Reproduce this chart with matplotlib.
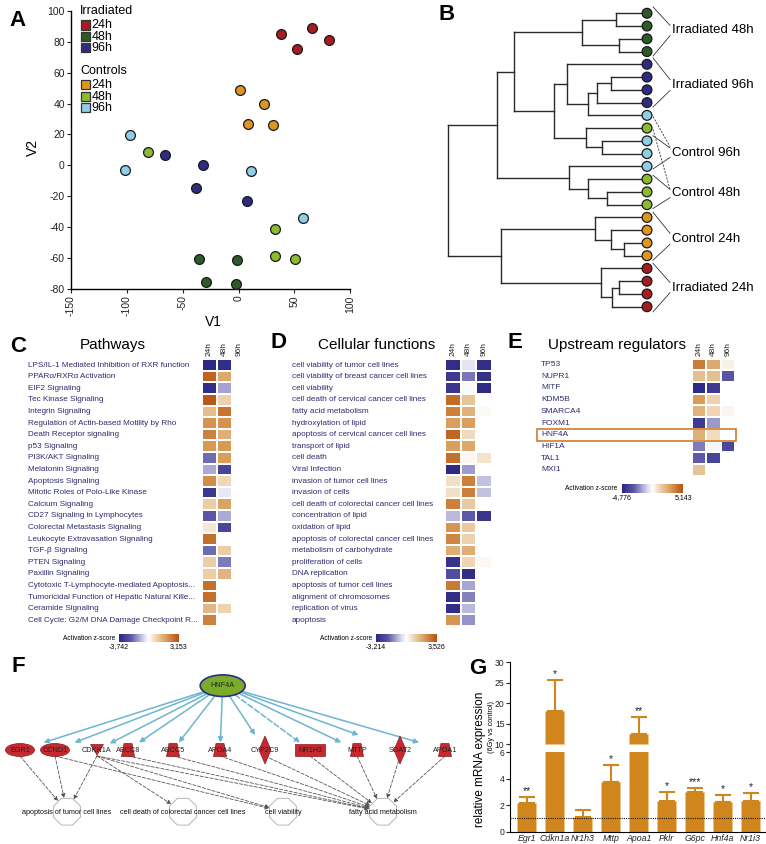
import numpy as np
import matplotlib
matplotlib.use("Agg")
import matplotlib.pyplot as plt
from matplotlib import patches, transforms
from matplotlib.colors import LinearSegmentedColormap, TwoSlopeNorm
from matplotlib.cm import ScalarMappable

plt.rcParams['font.family'] = ['Liberation Sans', 'DejaVu Sans']
plt.rcParams['axes.unicode_minus'] = False

W, H = 766, 844
nan = np.nan

# sample group colours
c_irr24 = '#a51d21'
c_irr48 = '#2d5b27'
c_irr96 = '#2f2b84'
c_ctl24 = '#e0951f'
c_ctl48 = '#8dbb2f'
c_ctl96 = '#91cde4'

# ---------------- A: PCA scores ----------------
irr24_v1 = [38, 52, 66, 81]
irr24_v2 = [85, 75, 89, 81]
irr48_v1 = [-35.5, -1.5, -29, -2.4]
irr48_v2 = [-60.3, -61.2, -75.2, -76.5]
irr96_v1 = [-65.4, -32, -38, 7.8]
irr96_v2 = [6.5, 0, -14.9, -23.1]
ctl24_v1 = [1.5, 22.7, 8.4, 31.3]
ctl24_v2 = [49, 39.7, 27, 26]
ctl48_v1 = [-81.5, 33, 32.5, 51]
ctl48_v2 = [8.6, -41.4, -58.6, -60.3]
ctl96_v1 = [-97.6, -101.5, 11.3, 57.6]
ctl96_v2 = [19.6, -3.2, -3.9, -34.3]

# ---------------- B: dendrogram ----------------
leaf_colors = ([c_irr48] * 4 + [c_irr96] * 4 +
               [c_ctl96, c_ctl48, c_ctl96, c_ctl96, c_ctl96, c_ctl48, c_ctl48, c_ctl48] +
               [c_ctl24] * 4 + [c_irr24] * 4)
# (child a, child b, height); new clusters numbered from 24
merges = [(0, 1, 31), (2, 3, 28), (24, 25, 65),
          (5, 6, 36), (27, 7, 50), (28, 8, 59), (4, 29, 80),
          (10, 11, 45), (9, 31, 61), (30, 32, 93), (26, 33, 133),
          (14, 15, 40), (13, 35, 59), (12, 36, 78), (34, 37, 150),
          (18, 19, 23), (17, 39, 36), (16, 40, 52),
          (21, 22, 28), (42, 23, 35), (20, 43, 46),
          (41, 44, 146), (38, 45, 199)]
group_labels = ['Irradiated 48h', 'Irradiated 96h', 'Control 96h',
                'Control 48h', 'Control 24h', 'Irradiated 24h']
group_label_pos = [1.31, 5.6, 10.93, 14.12, 17.68, 21.5]
# bracket strokes: (from leaf position, to label position, style)
group_strokes = [[(-0.5, 0.95, '-'), (3.35, 1.75, '-')],
                 [(3.5, 5.2, '-'), (7.35, 6.05, '-')],
                 [(8.1, 10.45, '--'), (9.6, 10.55, '-'), (12.2, 11.3, '-')],
                 [(9.1, 13.8, '--'), (12.7, 13.8, '-'), (15.3, 14.45, '-')],
                 [(15.6, 17.25, '-'), (19.35, 18.1, '-')],
                 [(19.6, 21.1, '-'), (23.4, 21.9, '-')]]

# ---------------- C: pathways ----------------
path_names = ['LPS/IL-1 Mediated Inhibition of RXR function', 'PPARα/RXRα Activation',
              'EIF2 Signaling', 'Tec Kinase Signaling', 'Integrin Signaling',
              'Regulation of Actin-based Motility by Rho', 'Death Receptor signaling',
              'p53 Signaling', 'PI3K/AKT Signaling', 'Melatonin Signaling',
              'Apoptosis Signaling', 'Mitotic Roles of Polo-Like Kinase', 'Calcium Signaling',
              'CD27 Signaling in Lymphocytes', 'Colorectal Metastasis Signaling',
              'Leukocyte Extravasation Signaling', 'TGF-β Signaling', 'PTEN Signaling',
              'Paxillin Signaling', 'Cytotoxic T-Lymphocyte-mediated Apoptosis...',
              'Tumoricidal Function of Hepatic Natural Kille...', 'Ceramide Signaling',
              'Cell Cycle: G2/M DNA Damage Checkpoint R...']
path_24h = [-3.7, 2.8, -3.5, 3.0, 1.2, 2.0, 2.3, 1.9, -2.0, -1.2, 2.1, -3.2, 0.9,
            -2.3, 0.4, 2.6, -2.0, 0.9, 0.9, 2.6, 2.6, 1.3, 2.3]
path_48h = [-3.5, 1.6, -1.3, 0.8, 2.5, 2.0, 1.5, 1.9, 1.8, -2.8, 0.7, -0.4, 1.7,
            -1.2, -2.8, nan, 0.9, -1.8, 1.4, nan, nan, 0.8, nan]
path_96h = [nan] * 23
path_range = (-3.742, 3.153)

# ---------------- D: cellular functions ----------------
func_names = ['cell viability of tumor cell lines', 'cell viability of breast cancer cell lines',
              'cell viability', 'cell death of cervical cancer cell lines', 'fatty acid metabolism',
              'hydroxylation of lipid', 'apoptosis of cervical cancer cell lines',
              'transport of lipid', 'cell death', 'Viral Infection',
              'invasion of tumor cell lines', 'invasion of cells',
              'cell death of colorectal cancer cell lines', 'concentration of lipid',
              'oxidation of lipid', 'apoptosis of colorectal cancer cell lines',
              'metabolism of carbohydrate', 'proliferation of cells', 'DNA replication',
              'apoptosis of tumor cell lines', 'alignment of chromosomes',
              'replication of virus', 'apoptosis']
func_24h = [-3.0, -2.7, -2.8, 3.0, 2.6, 2.0, 3.1, 2.0, 2.9, -3.1, 0.6, 0.6, 2.6,
            -0.9, 2.2, 2.5, 1.7, -2.9, -2.2, 2.7, -3.0, -3.0, 2.2]
func_48h = [-0.4, -1.6, -0.1, 1.2, 1.6, 2.0, 0.7, 1.8, 0.15, -1.2, 2.6, 2.6, 1.1,
            -1.9, 1.1, 0.9, 1.7, 0.8, -3.0, -1.1, -1.5, -0.9, -1.3]
func_96h = [-3.0, -2.9, -3.1, nan, 0.1, nan, nan, nan, 0.5, nan, -0.8, -0.8, nan,
            -2.8, nan, nan, nan, 0.15, nan, nan, nan, nan, nan]
func_range = (-3.214, 3.526)

# ---------------- E: upstream regulators ----------------
reg_names = ['TP53', 'NUPR1', 'MITF', 'KDM5B', 'SMARCA4', 'FOXM1', 'HNF4A', 'HIF1A', 'TAL1', 'MXI1']
reg_24h = [3.9, 1.9, -4.6, 3.0, 2.3, -4.0, 2.4, -2.3, -2.8, 1.8]
reg_48h = [2.6, 1.9, -4.0, 1.3, 1.2, -1.8, 1.0, -0.2, -3.6, nan]
reg_96h = [0.4, -3.0, nan, nan, 0.25, nan, nan, -3.5, nan, nan]
reg_range = (-4.776, 5.143)
time_cols = ['24h', '48h', '96h']

# ---------------- F: HNF4A network ----------------
hub_name = 'HNF4A'
net_genes = ['EGR1', 'CCND1', 'CDKN1A', 'ABCC8', 'ABCC5', 'APOA4', 'CYP2C9', 'NR1H3',
             'MTTP', 'SOAT2', 'APOA1']
net_shapes = ['ellipse', 'ellipse', 'vtri', 'trap', 'trap', 'trap', 'diamond', 'rect',
              'trap', 'diamond', 'trap']
net_gene_x = [20, 55, 97, 128, 173, 220, 265, 310, 357, 400, 445]
net_dashed = ['NR1H3']
net_funcs = ['apoptosis of tumor cell lines', 'cell death of colorectal cancer cell lines',
             'cell viability', 'fatty acid metabolism']
net_func_x = [67, 183, 283, 383]
net_links = [('EGR1', 0), ('CCND1', 0), ('CDKN1A', 0), ('CCND1', 2), ('CDKN1A', 1),
             ('CDKN1A', 2), ('CDKN1A', 3), ('ABCC8', 3), ('ABCC5', 3), ('APOA4', 3),
             ('CYP2C9', 3), ('NR1H3', 3), ('MTTP', 3), ('SOAT2', 3), ('APOA1', 3)]

# ---------------- G: qPCR ----------------
qpcr_genes = ['Egr1', 'Cdkn1a', 'Nr1h3', 'Mttp', 'Apoa1', 'Pklr', 'G6pc', 'Hnf4a', 'Nr1i3']
qpcr_mean = [2.2, 18.1, 1.08, 3.78, 12.45, 2.29, 2.97, 2.22, 2.34]
qpcr_err = [0.44, 7.5, 0.58, 1.26, 4.15, 0.71, 0.3, 0.58, 0.58]
qpcr_sig = ['**', '*', '', '*', '**', '*', '***', '*', '*']

# ======================================================================
fig = plt.figure(figsize=(W / 100, H / 100), dpi=100)


def ax_px(x0, y0, x1, y1):
    return fig.add_axes([x0 / W, 1 - y1 / H, (x1 - x0) / W, (y1 - y0) / H])


def ftext(x, y, s, **kw):
    fig.text(x / W, 1 - y / H, s, **kw)


for lab, (x, y) in zip('ABCDEFG', [(18, 20), (447, 14), (18, 346), (278, 343),
                                    (515, 343), (18, 666), (478, 669)]):
    ftext(x, y, lab, fontsize=16, fontweight='bold', ha='center', va='center')

# ---- A ----
axA = ax_px(71, 10.7, 350.2, 289.2)
for v1, v2, c in [(irr24_v1, irr24_v2, c_irr24), (irr48_v1, irr48_v2, c_irr48),
                  (irr96_v1, irr96_v2, c_irr96), (ctl24_v1, ctl24_v2, c_ctl24),
                  (ctl48_v1, ctl48_v2, c_ctl48), (ctl96_v1, ctl96_v2, c_ctl96)]:
    axA.scatter(v1, v2, s=50, c=c, edgecolors='#1a1a1a', linewidths=0.9, zorder=3, clip_on=False)
axA.set_xlim(-150, 100)
axA.set_ylim(-80, 100)
axA.set_xticks([-150, -100, -50, 0, 50, 100])
axA.set_yticks(range(-80, 101, 20))
axA.tick_params(labelsize=7.5, length=3, width=0.8, pad=1.5, colors='#222')
plt.setp(axA.get_xticklabels(), rotation=90)
for s in ['top', 'right']:
    axA.spines[s].set_visible(False)
for s in ['left', 'bottom']:
    axA.spines[s].set_linewidth(1.0)
axA.set_xlabel('V1', fontsize=10)
axA.set_ylabel('V2', fontsize=10)
axA.xaxis.set_label_coords(0.509, -0.093)
axA.yaxis.set_label_coords(-0.111, 0.51)

# legend of panel A
ftext(80, 10.5, 'Irradiated', fontsize=9, va='center')
ftext(80, 71, 'Controls', fontsize=9, va='center')
for i, c in enumerate([c_irr24, c_irr48, c_irr96, c_ctl24, c_ctl48, c_ctl96]):
    yy = 20.5 + i * 11.3 + (26 if i >= 3 else 0)
    fig.add_artist(patches.Rectangle((81 / W, 1 - (yy + 9) / H), 9 / W, 9 / H,
                                     transform=fig.transFigure, fc=c, ec='#333', lw=0.9))
    ftext(91.5, yy + 4.8, time_cols[i % 3], fontsize=9, va='center')

# ---- B ----
axB = ax_px(447.7, 6.9, 647, 313.1)
axB.set_xlim(199, 0)
axB.set_ylim(23.5, -0.5)
axB.axis('off')
pos = {i: float(i) for i in range(24)}
hgt = {i: 0.0 for i in range(24)}
for k, (a, b, h) in enumerate(merges):
    for ch in (a, b):
        axB.plot([hgt[ch], h], [pos[ch], pos[ch]], color='#2a2a2a', lw=1.0, clip_on=False)
    axB.plot([h, h], [pos[a], pos[b]], color='#2a2a2a', lw=1.0, clip_on=False)
    pos[24 + k] = (pos[a] + pos[b]) / 2
    hgt[24 + k] = h
axB.scatter(np.zeros(24), np.arange(24), s=50, c=leaf_colors, edgecolors='#1a1a1a',
            linewidths=0.9, zorder=3, clip_on=False)
for lab, ly, strokes in zip(group_labels, group_label_pos, group_strokes):
    axB.text(-25, ly, lab, fontsize=9.5, va='center', ha='left', clip_on=False)
    for y0, y1, ls in strokes:
        axB.plot([-6, -23], [y0, y1], color='#333', lw=0.6, ls=ls, clip_on=False,
                 dashes=(2.5, 1.5) if ls == '--' else (None, None))

# ---- heatmaps C, D, E ----
cmap = LinearSegmentedColormap.from_list('ipa', [(0, '#2a2683'), (0.2, '#5c58a6'),
                                                 (0.42, '#dcdbef'), (0.5, '#ffffff'),
                                                 (0.58, '#f3e1c8'), (0.8, '#d89a55'),
                                                 (1, '#b5500e')])


def heatmap(rect, names, cols, vrange, label_x, title, title_xy, name_size, cbar_rect):
    ax = ax_px(*rect)
    data = np.ma.masked_invalid(np.array(cols).T)
    norm = TwoSlopeNorm(vmin=vrange[0], vcenter=0, vmax=vrange[1])
    ax.pcolormesh(data, cmap=cmap, norm=norm, edgecolors='#ffffff', linewidth=0.25)
    ax.set_xlim(0, 3)
    ax.set_ylim(len(names), 0)
    ax.axis('off')
    tr = transforms.blended_transform_factory(fig.transFigure, ax.transData)
    for i, nm in enumerate(names):
        ax.text(label_x / W, i + 0.5, nm, transform=tr, fontsize=name_size, color='#2f2c6e',
                va='center', ha='left')
    for j, t in enumerate(time_cols):
        ax.text(j + 0.5, -0.25, t, rotation=90, fontsize=6, ha='center', va='bottom', color='#222')
    ftext(title_xy[0], title_xy[1], title, fontsize=11, ha='center', va='center')
    cax = ax_px(*cbar_rect)
    cb = fig.colorbar(ScalarMappable(norm=norm, cmap=cmap), cax=cax, orientation='horizontal')
    cb.outline.set_visible(False)
    cb.set_ticks(list(vrange))
    cb.set_ticklabels([('%.3f' % v).replace('.', ',') for v in vrange])
    cax.tick_params(length=0, labelsize=5, pad=1)
    ftext(cbar_rect[0] - 4, (cbar_rect[1] + cbar_rect[3]) / 2, 'Activation z-score',
          fontsize=4.8, ha='right', va='center')
    return ax, tr


heatmap((201.7, 359.3, 246.7, 626), path_names, [path_24h, path_48h, path_96h], path_range,
        28, 'Pathways', (113, 345), 5.85, (119, 634, 179, 642))
heatmap((445, 359.3, 491.7, 626), func_names, [func_24h, func_48h, func_96h], func_range,
        292, 'Cellular functions', (377, 345), 5.85, (376, 634, 437, 642))
axE, trE = heatmap((691.7, 358.7, 735, 475.7), reg_names, [reg_24h, reg_48h, reg_96h], reg_range,
                   541, 'Upstream regulators', (617, 345), 6.0, (621.7, 484, 683.3, 493))
hi = reg_names.index('HNF4A')
axE.add_patch(patches.Rectangle((536.7 / W, hi), (736 - 536.7) / W, 1, transform=trE,
                                fill=False, ec='#cf7a2b', lw=1.2, clip_on=False))

# ---- F ----
axF = ax_px(0, 655, 460, 844)
axF.set_xlim(0, 460)
axF.set_ylim(844, 655)
axF.axis('off')
hub = (222.7, 685.7)
hub_a, hub_b = 22.5, 10.8
gene_y = 750
func_y = 811.7
red = '#c42a30'
axF.add_patch(patches.Ellipse(hub, 2 * hub_a, 2 * hub_b, fc='#7bab2b', ec='#2f2b84', lw=1.2, zorder=4))
axF.text(hub[0], hub[1], hub_name, fontsize=5.2, ha='center', va='center', zorder=5, color='#222')

gene_top = {}
for g, shp, gx in zip(net_genes, net_shapes, net_gene_x):
    if shp == 'ellipse':
        p = patches.Ellipse((gx, gene_y), 29, 13)
        top = gene_y - 6.5
    elif shp == 'vtri':
        p = patches.Polygon([(gx - 6.5, gene_y - 5.5), (gx + 6.5, gene_y - 5.5), (gx, gene_y + 5)])
        top = gene_y - 5.5
    elif shp == 'trap':
        p = patches.Polygon([(gx - 4, gene_y - 6.5), (gx + 4, gene_y - 6.5),
                             (gx + 6.5, gene_y + 6.5), (gx - 6.5, gene_y + 6.5)])
        top = gene_y - 6.5
    elif shp == 'diamond':
        p = patches.Polygon([(gx, gene_y - 14), (gx + 6, gene_y), (gx, gene_y + 14), (gx - 6, gene_y)])
        top = gene_y - 14
    else:
        p = patches.Rectangle((gx - 15, gene_y - 6.3), 30, 12.6)
        top = gene_y - 6.3
    p.set_facecolor(red)
    p.set_edgecolor('#8a1a1e')
    p.set_linewidth(0.5)
    p.set_zorder(4)
    axF.add_patch(p)
    gene_top[g] = top
    axF.text(gx, gene_y + 0.5, g, fontsize=5.2, ha='center', va='center', zorder=5, color='#222')

# hub -> gene arrows
for g, gx in zip(net_genes, net_gene_x):
    dx, dy = gx - hub[0], gene_y - hub[1]
    t = 1 / np.sqrt((dx / hub_a) ** 2 + (dy / hub_b) ** 2)
    start = (hub[0] + t * dx, hub[1] + t * dy)
    f = (gene_top[g] - 1 - hub[1]) / dy
    end = (hub[0] + f * dx, hub[1] + f * dy)
    axF.annotate('', xy=end, xytext=start,
                 arrowprops=dict(arrowstyle='-|>', color='#6db5d1', lw=1.1, mutation_scale=7,
                                 shrinkA=0, shrinkB=0,
                                 linestyle='--' if g in net_dashed else '-'), zorder=3)

# functions
for fn, fx in zip(net_funcs, net_func_x):
    axF.add_patch(patches.RegularPolygon((fx, func_y), 8, radius=14.5, orientation=np.pi / 8,
                                         fc='white', ec='#aaaaaa', lw=0.6, zorder=2))
    axF.text(fx, func_y + 0.5, fn, fontsize=5.2, ha='center', va='center', zorder=5, color='#111')

for g, k in net_links:
    gx = net_gene_x[net_genes.index(g)]
    fx = net_func_x[k]
    sx, sy = gx, gene_y + 6
    dx, dy = fx - sx, func_y - sy
    d = np.hypot(dx, dy)
    end = (fx - dx / d * 14, func_y - dy / d * 14)
    axF.annotate('', xy=end, xytext=(sx, sy),
                 arrowprops=dict(arrowstyle='-|>', color='#555555', lw=0.6, mutation_scale=6,
                                 shrinkA=0, shrinkB=0, linestyle=(0, (4, 2))), zorder=1)

# ---- G ----
x = np.arange(len(qpcr_genes))
bar_c = '#d0861c'
axGt = ax_px(510, 662.3, 766, 752.3)
axGb = ax_px(510, 752.3, 766, 831.7)
mean = np.array(qpcr_mean)
err = np.array(qpcr_err)
big = mean > 6
axGt.bar(x[big], mean[big] - 10, bottom=10, width=0.67, color=bar_c, ec='#eec48a', lw=0.6)
axGb.bar(x, mean, width=0.67, color=bar_c, ec='#eec48a', lw=0.6)
for ax in (axGt, axGb):
    ax.errorbar(x, mean, yerr=[np.zeros_like(err), err], fmt='none', ecolor=bar_c,
                elinewidth=1.5, capsize=6, capthick=1.5)
    ax.set_xlim(-0.6, 8.55)
    for s in ['top', 'right']:
        ax.spines[s].set_visible(False)
    ax.tick_params(labelsize=6.2, length=3, width=0.8, pad=1, colors='#222')
axGt.set_ylim(10 - 8.3 / 4.085, 30)
axGt.set_yticks([10, 15, 20, 25, 30])
axGt.spines['bottom'].set_visible(False)
axGt.set_xticks([])
axGb.set_ylim(0, 6)
axGb.set_yticks([0, 2, 4, 6])
axGb.set_xticks(x)
axGb.set_xticklabels(qpcr_genes, fontstyle='italic', fontsize=6.3)
axGb.tick_params(axis='x', length=0, pad=2)
axGb.axhline(1, color='#111', lw=0.8, ls=(0, (1, 1)))
for xi, m, e, s in zip(x, mean, err, qpcr_sig):
    ax = axGt if m > 6 else axGb
    off = 0.25 if m > 6 else 0.08
    ax.text(xi, m + e + off, s, ha='center', va='bottom', fontsize=7.5, color='#222')
ftext(480, 759, 'relative mRNA expression', fontsize=8.5, rotation=90, ha='center', va='center')
ftext(491, 726.7, '(6Gy vs control)', fontsize=5.3, rotation=90, ha='center', va='center')

fig.savefig('out.png', dpi=100)
